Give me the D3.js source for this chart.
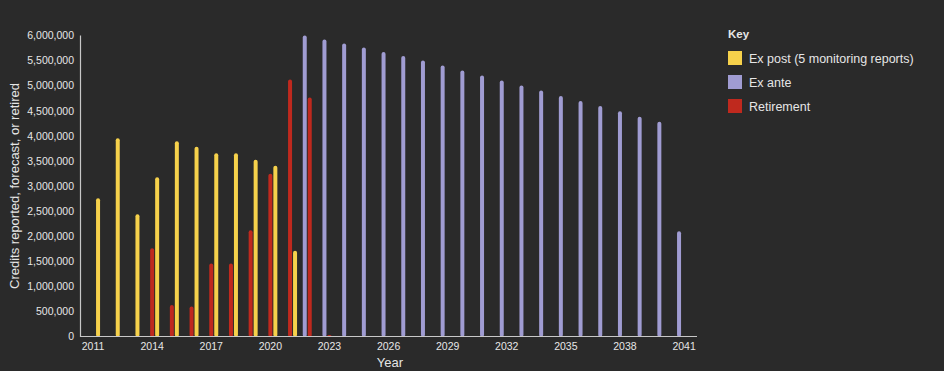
<!DOCTYPE html>
<html>
<head>
<meta charset="utf-8">
<script src="https://cdn.jsdelivr.net/npm/d3@7"></script>
<style>
  html, body { margin: 0; padding: 0; background: #2a2a2a; }
  svg { display: block; font-family: "Liberation Sans", Arial, sans-serif; }
</style>
</head>
<body>
<div id="chart"></div>
<script>
// years on the x axis
const years = d3.range(2011, 2042);
const tickYears = [2011, 2014, 2017, 2020, 2023, 2026, 2029, 2032, 2035, 2038, 2041];

// ex post (monitoring reports), 2011-2021
const exPostYears = [2011, 2012, 2013, 2014, 2015, 2016, 2017, 2018, 2019, 2020, 2021];
const exPostValues = [2750000, 3950000, 2430000, 3170000, 3890000, 3780000, 3650000, 3650000, 3520000, 3400000, 1700000];

// ex ante forecast, 2022-2041
const exAnteYears = d3.range(2022, 2042);
const exAnteValues = [6000000, 5920000, 5840000, 5760000, 5670000, 5590000, 5500000, 5400000, 5300000, 5200000,
  5100000, 5000000, 4900000, 4790000, 4690000, 4590000, 4490000, 4380000, 4280000, 2090000];

// retirements, 2014-2023
const retireYears = [2014, 2015, 2016, 2017, 2018, 2019, 2020, 2021, 2022, 2023];
const retireValues = [1750000, 620000, 590000, 1450000, 1450000, 2110000, 3240000, 5120000, 4760000, 20000];

const seriesNames = ['Ex post (5 monitoring reports)', 'Ex ante', 'Retirement'];
const seriesColors = ['#f6d14b', '#a09cd2', '#bf291e'];

const width = 944, height = 371;
const svg = d3.select('#chart').append('svg')
  .attr('width', width)
  .attr('height', height);

svg.append('rect').attr('width', width).attr('height', height).attr('fill', '#2a2a2a');

const x = d3.scaleBand().domain(years).range([83.2, 693.9]);
const inner = d3.scaleBand().domain(['ante', 'retire', 'post']).range([-7.5, 7.5]);
const y = d3.scaleLinear().domain([0, 6000000]).range([336, 35.5]);

const barW = 4;

// bars
const series = [
  { key: 'post', yrs: exPostYears, vals: exPostValues, color: seriesColors[0] },
  { key: 'ante', yrs: exAnteYears, vals: exAnteValues, color: seriesColors[1] },
  { key: 'retire', yrs: retireYears, vals: retireValues, color: seriesColors[2] }
];

series.forEach(s => {
  svg.append('g')
    .selectAll('rect')
    .data(s.yrs.map((yr, i) => ({ yr: yr, v: s.vals[i] })))
    .enter()
    .append('rect')
    .attr('x', d => x(d.yr) + x.bandwidth() / 2 + inner(s.key) + inner.bandwidth() / 2 - barW / 2)
    .attr('y', d => y(d.v))
    .attr('width', barW)
    .attr('height', d => Math.max(1.5, y(0) - y(d.v) + 1))
    .attr('rx', 2)
    .attr('fill', s.color);
});

// axes
const xAxis = svg.append('g')
  .attr('transform', 'translate(0,' + y(0) + ')')
  .call(d3.axisBottom(x).tickValues(tickYears).tickSize(0).tickPadding(7));
xAxis.select('.domain').remove();
xAxis.selectAll('text').attr('fill', '#e6e6e6').style('font-size', '10.5px');

const yAxis = svg.append('g')
  .attr('transform', 'translate(80,0)')
  .call(d3.axisLeft(y).tickValues(d3.range(0, 6000001, 500000)).tickSize(0).tickPadding(6)
    .tickFormat(d3.format(',')));
yAxis.select('.domain').remove();
yAxis.selectAll('text').attr('fill', '#e6e6e6').style('font-size', '10.5px');

svg.append('line')
  .attr('x1', 80).attr('x2', 697)
  .attr('y1', y(0) + 0.5).attr('y2', y(0) + 0.5)
  .attr('stroke', '#c8c8c8').attr('stroke-width', 1.2);
svg.append('line')
  .attr('x1', 80.5).attr('x2', 80.5)
  .attr('y1', y(6000000)).attr('y2', y(0) + 1)
  .attr('stroke', '#c8c8c8').attr('stroke-width', 1.2);

// axis titles
svg.append('text')
  .attr('transform', 'translate(19,186) rotate(-90)')
  .attr('text-anchor', 'middle')
  .attr('fill', '#e6e6e6')
  .style('font-size', '13px')
  .text('Credits reported, forecast, or retired');

svg.append('text')
  .attr('x', 390).attr('y', 367)
  .attr('text-anchor', 'middle')
  .attr('fill', '#e6e6e6')
  .style('font-size', '13px')
  .text('Year');

// legend
const legend = svg.append('g').attr('transform', 'translate(728,0)');
legend.append('text')
  .attr('x', 0).attr('y', 38)
  .attr('fill', '#e6e6e6')
  .style('font-size', '11.5px')
  .style('font-weight', 'bold')
  .text('Key');

const item = legend.selectAll('.item')
  .data(seriesNames)
  .enter()
  .append('g')
  .attr('class', 'item')
  .attr('transform', (d, i) => 'translate(0,' + (51 + i * 24) + ')');
item.append('rect')
  .attr('width', 14).attr('height', 14)
  .attr('fill', (d, i) => seriesColors[i]);
item.append('text')
  .attr('x', 21).attr('y', 11.5)
  .attr('fill', '#e6e6e6')
  .style('font-size', '12.5px')
  .text(d => d);
</script>
</body>
</html>
